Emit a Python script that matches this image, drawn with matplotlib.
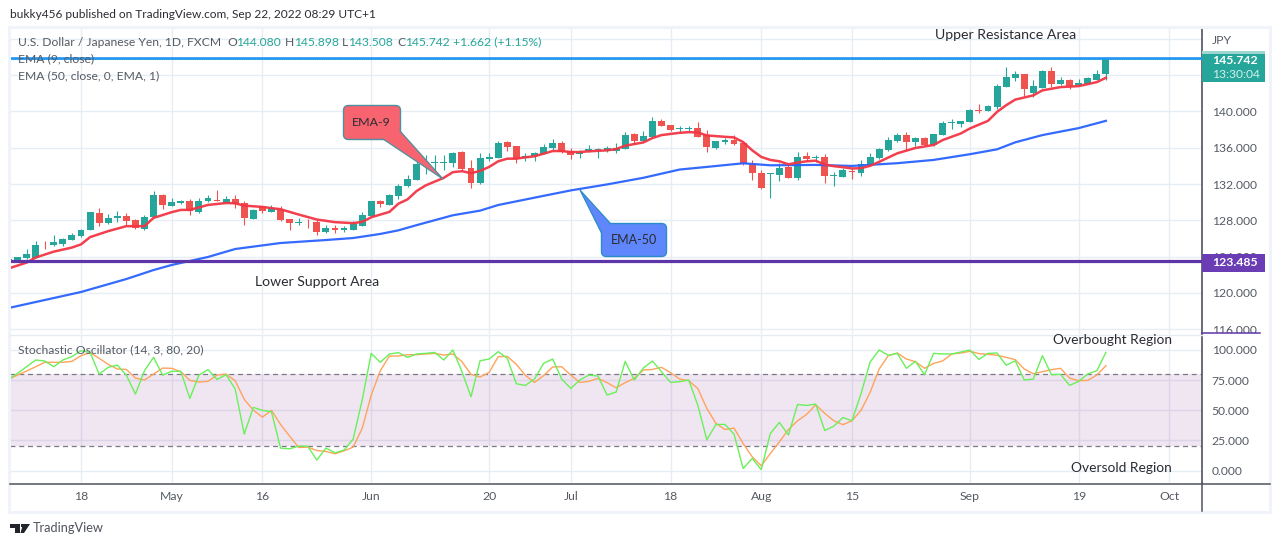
import matplotlib
matplotlib.use('Agg')
import matplotlib.pyplot as plt
import numpy as np
from matplotlib.patches import FancyBboxPatch, Polygon, Rectangle
from matplotlib.transforms import Bbox

plt.rcParams['font.family'] = ['Lato', 'DejaVu Sans']

# daily bars, index 0 = Apr 18
opens = [123.34, 123.53, 123.82, 123.89, 125.31, 125.24, 125.42, 125.83, 126.26, 126.92, 128.82, 127.69, 128.23, 128.53, 128.09, 127.10,
         128.34, 130.83, 129.62, 129.95, 130.13, 128.96, 130.10, 130.24, 129.91, 130.39, 129.95, 128.20, 129.48, 128.96, 129.26, 128.20,
         127.69, 127.98, 127.87, 126.70, 127.21, 126.99, 126.92, 127.43, 128.53, 130.10, 129.73, 130.72, 131.77, 132.50, 134.22, 134.33,
         134.33, 134.37, 135.50, 133.82, 132.07, 134.77, 134.91, 136.59, 136.23, 134.91, 135.13, 135.35, 136.01, 136.52, 135.64, 135.28,
         135.61, 135.79, 135.64, 135.68, 135.90, 137.47, 136.74, 137.21, 138.97, 138.53, 138.05, 138.09, 138.20, 137.36, 135.97, 136.59,
         136.88, 136.52, 134.26, 133.27, 133.16, 133.05, 133.86, 132.72, 135.13, 134.84, 134.99, 132.91, 132.80, 133.42, 133.24, 134.15,
         134.88, 135.72, 136.75, 137.40, 136.64, 137.11, 136.31, 137.40, 138.75, 138.64, 138.83, 140.21, 140.07, 140.50, 142.69, 143.64,
         144.08, 142.00, 142.62, 144.52, 142.99, 143.42, 142.88, 143.06, 143.50, 144.08]
highs = [123.75, 124.00, 124.80, 125.75, 125.72, 126.34, 126.08, 126.63, 127.00, 128.96, 129.37, 128.71, 129.07, 128.82, 128.20, 128.56,
         131.26, 130.90, 130.50, 130.28, 130.39, 130.50, 130.83, 131.37, 130.64, 130.83, 130.10, 129.26, 129.62, 129.73, 129.55, 128.20,
         128.27, 128.16, 128.09, 127.54, 127.54, 127.36, 127.91, 128.89, 130.10, 130.28, 130.90, 132.03, 133.05, 134.51, 135.24, 135.20,
         135.24, 135.50, 135.61, 134.69, 135.42, 135.42, 136.74, 136.78, 136.25, 135.42, 135.57, 136.41, 136.99, 136.78, 135.97, 135.79,
         136.34, 135.97, 136.23, 136.52, 137.72, 137.61, 137.87, 139.37, 139.18, 138.55, 138.42, 138.42, 138.82, 137.98, 136.78, 137.07,
         137.43, 136.59, 134.69, 133.60, 133.20, 134.33, 134.22, 135.57, 135.57, 135.24, 135.29, 133.35, 133.75, 133.72, 134.66, 135.43,
         135.94, 137.15, 137.62, 137.73, 137.22, 137.18, 137.55, 138.94, 139.12, 138.97, 140.25, 140.80, 140.69, 143.06, 144.96, 144.52,
         144.10, 143.42, 144.59, 144.96, 143.79, 143.61, 143.61, 143.79, 144.63, 145.898]
lows = [123.30, 123.50, 123.78, 123.85, 124.80, 125.20, 125.17, 125.80, 126.20, 126.90, 127.43, 127.65, 127.80, 127.54, 127.07, 126.92,
        128.30, 129.29, 129.60, 129.84, 128.64, 128.82, 130.05, 130.10, 129.91, 129.40, 127.54, 128.15, 128.82, 128.89, 127.98, 126.99,
        127.54, 127.18, 126.34, 126.65, 126.63, 126.70, 126.90, 127.40, 128.50, 129.51, 129.70, 130.39, 131.70, 132.50, 133.16, 133.60,
        133.60, 133.89, 133.42, 131.52, 132.05, 134.59, 134.90, 135.64, 134.33, 134.59, 134.59, 135.30, 135.79, 135.45, 134.80, 134.84,
        135.50, 134.91, 135.57, 135.39, 135.85, 136.41, 136.59, 137.20, 138.40, 137.83, 137.61, 137.80, 137.14, 135.57, 135.86, 136.41,
        136.34, 134.15, 132.50, 131.50, 130.42, 132.29, 132.70, 132.50, 134.51, 134.44, 132.07, 131.74, 132.75, 132.58, 132.91, 134.10,
        134.80, 135.70, 136.64, 135.76, 136.20, 136.20, 136.20, 137.40, 138.10, 138.28, 138.80, 139.85, 140.05, 140.29, 142.65, 143.35,
        141.75, 141.56, 142.60, 142.69, 142.88, 142.51, 142.77, 142.99, 143.42, 143.508]
closes = [123.71, 123.96, 124.26, 125.31, 125.25, 125.57, 125.90, 126.34, 126.99, 128.89, 127.69, 128.31, 128.53, 127.98, 127.18, 128.42,
          130.83, 129.73, 130.06, 130.17, 129.00, 130.17, 130.50, 130.17, 130.39, 129.84, 128.23, 129.18, 129.00, 129.37, 128.09, 127.69,
          127.87, 127.91, 126.70, 127.21, 126.99, 127.14, 127.65, 128.64, 130.10, 129.80, 130.79, 131.81, 132.61, 134.26, 134.40, 134.40,
          134.48, 135.46, 133.71, 132.07, 134.91, 135.02, 136.52, 136.12, 134.73, 135.13, 135.46, 136.12, 136.56, 135.50, 135.17, 135.50,
          135.86, 135.90, 135.97, 135.94, 137.43, 136.78, 137.32, 138.97, 138.42, 137.98, 138.20, 138.20, 137.21, 136.05, 136.70, 136.88,
          136.45, 134.18, 133.20, 131.52, 133.16, 133.82, 132.72, 135.02, 134.80, 135.02, 132.84, 132.99, 133.50, 133.31, 134.23, 134.99,
          135.87, 136.85, 137.40, 136.67, 137.11, 136.31, 137.51, 138.72, 138.86, 138.94, 140.18, 140.10, 140.58, 142.80, 143.75, 144.08,
          142.48, 142.77, 144.52, 142.99, 143.42, 142.77, 143.17, 143.64, 144.08, 145.742]

ema9_idx = [-8, -6, -5, -3, -1, 0, 1, 3, 5, 6, 7, 8, 10, 11, 12, 14, 16, 17, 18, 20, 22, 24, 26, 28, 30, 31, 32, 34, 35, 36, 37, 38,
            40, 41, 42, 43, 44, 45, 46, 47, 48, 49, 50, 51, 52, 53, 54, 55, 56, 58, 59, 60, 62, 63, 64, 66, 67, 68, 69, 71, 72, 73, 74,
            75, 76, 77, 78, 79, 80, 81, 82, 83, 84, 85, 86, 87, 88, 90, 92, 94, 95, 97, 98, 100, 101, 102, 103, 105, 106, 108, 110, 112, 113]
ema9 = [122.69, 123.34, 123.90, 124.55, 125.00, 125.35, 126.15, 126.81, 127.36, 127.36, 127.36, 128.27, 128.90, 129.15, 129.15, 129.70,
        129.91, 129.88, 129.62, 129.48, 129.22, 128.64, 128.09, 127.80, 127.69, 127.83, 128.34, 128.93, 129.84, 130.31, 131.23, 131.85,
        132.69, 133.31, 133.42, 133.20, 133.45, 133.89, 134.51, 134.80, 134.80, 134.95, 135.06, 135.35, 135.64, 135.64, 135.53, 135.53,
        135.61, 135.72, 135.86, 136.23, 136.59, 137.07, 137.40, 137.65, 137.72, 137.69, 137.36, 137.21, 137.14, 136.63, 135.72, 134.99,
        134.66, 134.51, 134.18, 134.37, 134.51, 134.58, 134.15, 133.97, 133.86, 133.72, 133.75, 134.01, 134.45, 135.39, 135.98, 136.31,
        136.85, 137.58, 138.13, 138.97, 139.96, 140.69, 141.31, 141.78, 142.33, 142.69, 142.80, 143.24, 143.72]

ema50_idx = [-8, 0, 5, 8, 10, 14, 17, 22, 27, 30, 33, 35, 37, 41, 44, 46, 50, 54, 58, 62, 66, 69, 73, 76, 81, 85, 90, 94, 98, 101, 103, 106, 110, 113]
ema50 = [118.33, 120.10, 121.53, 122.52, 123.08, 123.96, 124.84, 125.50, 125.83, 126.05, 126.50, 126.90, 127.47, 128.56, 129.07, 129.69,
         130.50, 131.30, 131.96, 132.69, 133.60, 133.89, 134.29, 134.07, 134.11, 134.00, 134.30, 134.66, 135.29, 135.83, 136.60, 137.40, 138.17, 138.97]

stoch_k = [75.6, 80.6, 86.1, 91.7, 90.9, 86.1, 91.7, 94.5, 99.4, 98.0, 80.0, 85.6, 87.5, 79.2, 63.4, 82.8, 93.9, 79.2, 82.3, 82.3, 59.8, 79.2,
           83.7, 75.6, 79.5, 67.6, 30.2, 52.4, 49.9, 48.8, 18.6, 18.0, 20.2, 20.2, 8.6, 18.6, 14.7, 16.9, 26.0, 58.4, 97.2, 89.8, 96.7, 97.8,
           93.9, 96.7, 97.2, 98.0, 91.7, 100.0, 82.0, 61.2, 91.1, 92.5, 98.6, 93.1, 72.0, 70.6, 75.9, 88.9, 92.5, 75.9, 68.1, 75.1, 79.2, 78.4,
           62.6, 65.1, 90.6, 75.1, 85.0, 90.9, 82.0, 73.1, 73.7, 75.1, 54.3, 25.5, 38.2, 38.2, 30.2, 1.7, 10.0, 0.8, 30.7, 39.9, 29.4, 54.8,
           54.0, 55.1, 33.2, 36.8, 44.0, 41.3, 63.7, 90.0, 100.0, 95.6, 97.2, 84.8, 90.6, 79.5, 97.2, 96.7, 96.7, 98.3, 100.0, 92.2, 97.2, 97.5,
           87.3, 91.1, 75.1, 75.9, 95.3, 79.5, 79.8, 70.6, 74.0, 80.1, 82.8, 98.0]
stoch_d = [75.6, 79.2, 82.5, 86.1, 89.8, 89.8, 89.8, 90.6, 95.3, 97.8, 93.1, 88.1, 84.2, 83.9, 76.7, 75.1, 80.0, 85.0, 84.8, 82.0, 74.8, 73.4,
           74.0, 79.2, 80.0, 74.5, 59.0, 50.1, 44.3, 49.9, 38.2, 28.5, 19.1, 19.4, 16.6, 15.8, 13.9, 16.3, 19.4, 34.9, 62.6, 82.8, 95.0, 95.0,
           96.1, 96.1, 96.7, 97.2, 95.8, 96.7, 90.3, 79.8, 77.6, 81.4, 94.5, 94.7, 88.1, 78.9, 73.1, 78.7, 85.9, 86.1, 79.2, 73.1, 74.0, 76.5,
           72.9, 68.7, 72.9, 76.5, 83.4, 83.9, 85.6, 81.2, 75.9, 74.5, 68.1, 51.5, 39.1, 34.0, 35.2, 22.4, 11.4, 3.9, 14.1, 23.8, 34.0, 41.3,
           46.5, 54.6, 47.4, 41.3, 38.0, 41.3, 49.9, 64.8, 84.2, 95.3, 97.5, 92.5, 90.3, 84.8, 88.9, 90.9, 96.7, 97.5, 98.9, 97.0, 96.4, 95.6,
           93.9, 92.0, 84.2, 80.3, 82.0, 83.7, 84.8, 76.7, 74.5, 74.8, 79.2, 87.0]

date_ticks = [0, 10, 20, 32, 45, 54, 65, 75, 85, 98, 110, 120]
date_labels = ['18', 'May', '16', 'Jun', '20', 'Jul', '18', 'Aug', '15', 'Sep', '19', 'Oct']
price_ticks = [116, 120, 124, 128, 132, 136, 140]
grid_prices = [116, 120, 124, 128, 132, 136, 140, 144, 148]
stoch_ticks = [0, 25, 50, 75, 100]

UP = '#26a69a'
DOWN = '#ef5350'
GRID = '#e6edf3'
TXT = '#555a63'
DARK = '#2b2b33'
AXLINE = '#50535e'
LEG = 8.75

W, H = 1280, 546
fig = plt.figure(figsize=(W / 100, H / 100), dpi=100, facecolor='white')


def px_axes(l, t, r, b, **kw):
    return fig.add_axes([l / W, 1 - b / H, (r - l) / W, (b - t) / H], **kw)


ax = px_axes(10, 28, 1202, 334)
ax2 = px_axes(10, 335, 1202, 483)

xlo, xhi = (10 - 81) / 9.07, (1202 - 81) / 9.07
for a in (ax, ax2):
    a.set_xlim(xlo, xhi)
    a.set_xticks(date_ticks)
    a.grid(True, color=GRID, lw=1.0)
    a.set_axisbelow(True)
    a.yaxis.tick_right()
    for s in a.spines.values():
        s.set_visible(False)
    a.spines['right'].set_visible(True)
    a.spines['right'].set_color(AXLINE)
    a.spines['right'].set_linewidth(1.2)

# price pane
ax.set_ylim(140 - (334 - 111.5) / 9.07, 140 + (111.5 - 28) / 9.07)
ax.set_yticks(grid_prices)
ax.set_yticklabels(['%.3f' % v if v in price_ticks else '' for v in grid_prices])
ax.tick_params(axis='y', length=0, pad=7, labelsize=8.7, labelcolor=TXT)
ax.tick_params(axis='x', length=0, labelbottom=False)

bars = np.arange(-8, 114)
opens, highs, lows, closes = map(np.array, (opens, highs, lows, closes))
colors = np.where(closes >= opens, UP, DOWN)
ax.vlines(bars, lows, highs, colors=colors, lw=0.8, zorder=3)
ax.bar(bars, np.maximum(np.abs(closes - opens), 0.07), bottom=np.minimum(opens, closes),
       width=0.76, color=colors, lw=0, zorder=3)

ax.plot(ema50_idx, ema50, color='#2962ff', lw=1.6, alpha=0.95, zorder=4)
ax.plot(ema9_idx, ema9, color='#f23645', lw=1.8, alpha=0.95, zorder=5)

ax.axhline(145.742, color='#26a69a', lw=0.8, ls=(0, (1, 1)), zorder=5)
ax.axhline(145.95, color='#2196f3', lw=1.9, zorder=6)
ax.axhline(123.485, color='#5e35a9', lw=2.3, zorder=6)

# stochastic pane
ax2.set_ylim(100 - (483 - 350) / 1.205, 100 + (350 - 335) / 1.205)
ax2.set_yticks(stoch_ticks)
ax2.set_yticklabels(['%.3f' % v for v in stoch_ticks])
ax2.tick_params(axis='y', length=0, pad=7, labelsize=8.7, labelcolor=TXT)
ax2.set_xticklabels(date_labels)
ax2.tick_params(axis='x', length=0, pad=6, labelsize=8.8, labelcolor=TXT)
ax2.axhspan(20, 80, color='#8e3f9e', alpha=0.13, lw=0, zorder=1)
ax2.axhline(80, color='#787b86', lw=0.9, ls=(0, (4, 3)), zorder=2)
ax2.axhline(20, color='#787b86', lw=0.9, ls=(0, (4, 3)), zorder=2)
ax2.plot(bars, stoch_d, color='#ffa35c', lw=1.0, zorder=3)
ax2.plot(bars, stoch_k, color='#69f05a', lw=1.0, zorder=4)

fig.canvas.draw()
# 116 label is cut by the pane border, as on the site
for lab, v in zip(ax.get_yticklabels(), grid_prices):
    if v == 116:
        lab.set_clip_box(Bbox([[1203, H - 333], [1275, H - 300]]))
        lab.set_clip_on(True)

# overlay in image pixels for frame, tags, callouts and texts
pix = fig.add_axes([0, 0, 1, 1], facecolor='none')
pix.set_xlim(0, W)
pix.set_ylim(H, 0)
pix.axis('off')

pix.add_patch(Rectangle((9, 27), 1261, 485, fill=False, ec='#f0f3fa', lw=2.2))
pix.plot([10, 1202], [334.5, 334.5], color='#e8ecf2', lw=1.0)
pix.plot([10, 1270], [483.5, 483.5], color=AXLINE, lw=1.1)
pix.plot([1202, 1202], [483, 511], color=AXLINE, lw=1.1)
pix.plot([1202, 1260], [333, 333], color='#5e35a9', lw=1.1)

# last price and support tags
pix.add_patch(Rectangle((1202, 51), 63, 31, color=UP, lw=0))
pix.add_patch(Rectangle((1202, 51), 63, 3, color='#9fd6d0', lw=0))
pix.text(1212, 60.5, '145.742', color='white', fontsize=8.8, fontweight='bold', va='center')
pix.text(1212, 74, '13:30:04', color='#d4efec', fontsize=8.7, va='center')
pix.add_patch(Rectangle((1202, 254), 63, 17.5, color='#6a3db5', lw=0))
pix.text(1212, 263, '123.485', color='white', fontsize=8.8, fontweight='bold', va='center')
pix.text(1212, 41, 'JPY', color=TXT, fontsize=8.8, va='center')

# callouts
pix.add_patch(FancyBboxPatch((347, 109), 50, 27, boxstyle='round,pad=3.5,rounding_size=5',
                             fc='#f7646f', ec='#4f8f9f', lw=1.0, zorder=6))
pix.add_patch(Polygon([(383, 139), (443, 179), (400, 131)], fc='#f7646f', ec='none', zorder=7))
pix.plot([383, 443, 400], [139, 179, 131], color='#4f8f9f', lw=0.9, zorder=7)
pix.text(371, 122, 'EMA-9', color=DARK, fontsize=8.9, ha='center', va='center', zorder=8)
pix.add_patch(FancyBboxPatch((605, 227), 58, 26, boxstyle='round,pad=3.5,rounding_size=5',
                             fc='#5f87fb', ec='#2d8cc8', lw=1.0, zorder=6))
pix.add_patch(Polygon([(601, 232), (580, 190), (610, 223)], fc='#5f87fb', ec='none', zorder=7))
pix.plot([601, 580, 610], [232, 190, 223], color='#2d8cc8', lw=0.9, zorder=7)
pix.text(634, 240, 'EMA-50', color=DARK, fontsize=9.0, ha='center', va='center', zorder=8)

# text notes
pix.text(935, 35, 'Upper Resistance Area', color=DARK, fontsize=10.2, va='center')
pix.text(255, 281.5, 'Lower Support Area', color=DARK, fontsize=10.1, va='center')
pix.text(1053, 340.5, 'Overbought Region', color=DARK, fontsize=9.9, va='center')
pix.text(1071, 468.5, 'Oversold Region', color=DARK, fontsize=9.9, va='center')

# header and legend
pix.text(10, 14.5, 'bukky456 published on TradingView.com, Sep 22, 2022 08:29 UTC+1', color=DARK, fontsize=8.55, va='center')
pix.text(18, 42, 'U.S. Dollar / Japanese Yen, 1D, FXCM', color=TXT, fontsize=LEG, va='center')
pix.text(227, 42, 'O', color=TXT, fontsize=LEG, va='center')
pix.text(236, 42, '144.080', color=UP, fontsize=LEG, va='center')
pix.text(285, 42, 'H', color=TXT, fontsize=LEG, va='center')
pix.text(294, 42, '145.898', color=UP, fontsize=LEG, va='center')
pix.text(342, 42, 'L', color=TXT, fontsize=LEG, va='center')
pix.text(348, 42, '143.508', color=UP, fontsize=LEG, va='center')
pix.text(397, 42, 'C', color=TXT, fontsize=LEG, va='center')
pix.text(405, 42, '145.742', color=UP, fontsize=LEG, va='center')
pix.text(453, 42, '+1.662 (+1.15%)', color=UP, fontsize=LEG, va='center')
pix.text(18, 59, 'EMA (9, close)', color=TXT, fontsize=LEG, va='center', zorder=1)
pix.text(18, 76, 'EMA (50, close, 0, EMA, 1)', color=TXT, fontsize=LEG, va='center')
pix.text(18, 350, 'Stochastic Oscillator (14, 3, 80, 20)', color=TXT, fontsize=LEG, va='center')

# footer logo
pix.add_patch(Polygon([(10, 524), (20, 524), (20, 533), (15, 533), (15, 528), (10, 528)], color='#22242b', lw=0))
pix.add_patch(Polygon([(23, 524), (30, 524), (24, 533), (20.5, 533)], color='#22242b', lw=0))
pix.add_patch(Polygon([(21, 524), (24, 524), (24, 527), (21, 527)], color='#22242b', lw=0))
pix.text(33, 528.5, 'TradingView', color='#50535e', fontsize=9.2, va='center')

fig.savefig('out.png', dpi=100, facecolor='white')
